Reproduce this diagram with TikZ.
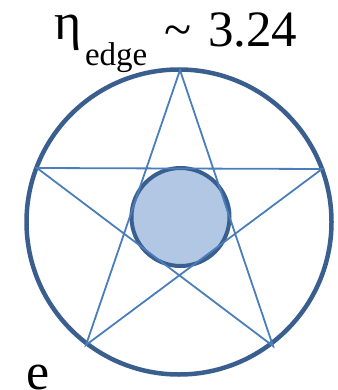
\documentclass[tikz,border=0pt]{standalone}
\usepackage{fontspec}
\setmainfont{Liberation Serif}
\newfontfamily\tnr{Liberation Serif}
\definecolor{ringblue}{HTML}{3A5F8F}
\definecolor{starblue}{HTML}{4A7EBB}
\definecolor{fillblue}{HTML}{B1C7E4}
\begin{document}
\begin{tikzpicture}[x=1pt,y=-1pt,
  ring/.style={draw=ringblue,line width=4.5pt},
  inner/.style={draw=ringblue,fill=fillblue,line width=4pt},
  starline/.style={draw=starblue,line width=1.8pt,line join=miter},
  txt/.style={inner sep=0pt,outer sep=0pt,anchor=base west,text=black}]
\useasboundingbox (0,0) rectangle (337,390);
% outer ring
\node[ring,circle,minimum size=305pt,inner sep=0pt] (big) at (179,222) {};
% star vertices
\coordinate (T) at (180,70);
\coordinate (R) at (322,169);
\coordinate (BR) at (273,346);
\coordinate (BL) at (86,345);
\coordinate (L) at (37,168);
% inner disc
\node[inner,circle,minimum size=98pt,inner sep=0pt] (small) at (180.5,217) {};
% pentagram
\draw[starline] (T) -- (BL) -- (R) -- (L) -- (BR) -- cycle;
% labels
\node[txt,font=\tnr\fontsize{52}{52}\selectfont] (eta) at (54,40) {η};
\node[txt,font=\tnr\fontsize{33}{33}\selectfont] (sub) at (85,66) {edge};
\node[txt,font=\tnr\fontsize{50}{50}\selectfont] (tilde) at (164,47) {\textasciitilde};
\node[txt,font=\tnr\fontsize{51}{51}\selectfont] (val) at (208,47) {3.24};
\node[txt,font=\tnr\fontsize{52}{52}\selectfont] (e) at (26,389) {e};
\end{tikzpicture}
\end{document}
